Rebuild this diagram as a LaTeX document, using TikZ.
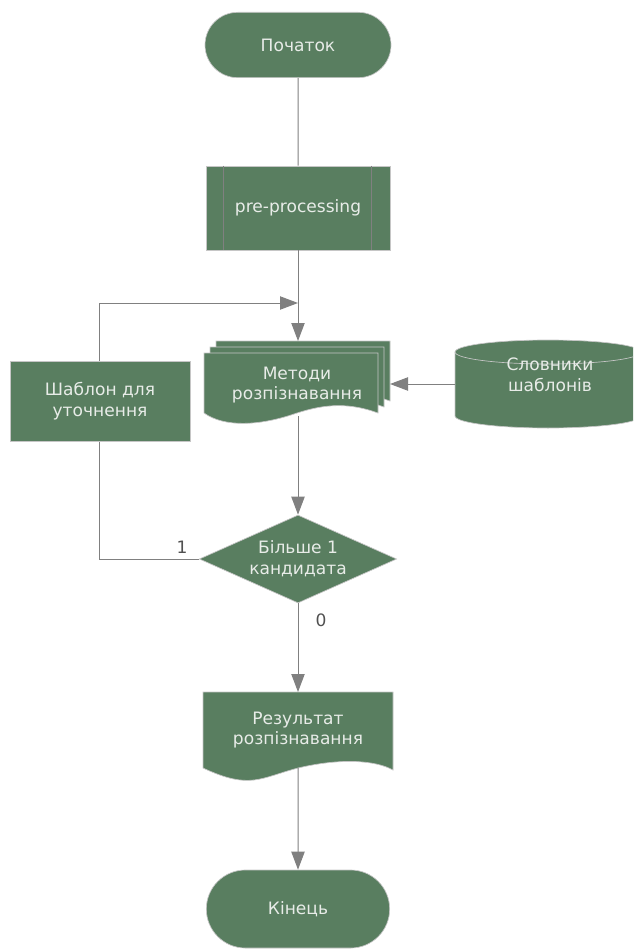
\documentclass[tikz,border=0pt]{standalone}
\usepackage{fontspec}
\setmainfont{DejaVu Sans}
\usetikzlibrary{shapes.geometric,shapes.misc,arrows.meta}
\definecolor{boxgreen}{RGB}{89,126,96}
\definecolor{linegray}{RGB}{128,128,128}
\definecolor{labelwhite}{RGB}{232,236,232}
\definecolor{numgray}{RGB}{80,80,80}

\begin{document}
\begin{tikzpicture}[x=0.75pt,y=0.75pt,yscale=-1,xscale=1,
  every node/.style={font=\fontsize{12.8pt}{15.5pt}\selectfont},
  shapebox/.style={fill=boxgreen,draw=gray!45,line width=0.5pt},
  boxtext/.style={text=labelwhite,align=center,inner sep=0.75pt},
  terminal/.style={shapebox,boxtext,rounded rectangle,minimum width=141pt,minimum height=49pt},
  procbox/.style={shapebox,boxtext,rectangle,minimum width=138pt,minimum height=63pt},
  decision/.style={shapebox,diamond,inner sep=0pt,minimum width=148pt,minimum height=66pt},
  line/.style={draw=linegray,line width=0.75pt},
  flow/.style={line,-{Triangle[length=13.5pt,width=10pt]}},
  numlabel/.style={text=numgray,inner sep=0.75pt}]
\useasboundingbox (0,0) rectangle (633,952);

%Flowchart: Terminator
\node[terminal] (start) at (298,45) {Початок};

%Flowchart: Predefined Process
\node[procbox] (prep) at (298,208) {pre-processing};
\draw[draw=linegray,line width=0.5pt] ([xshift=13.5pt]prep.north west) -- ([xshift=13.5pt]prep.south west)
  ([xshift=-14pt]prep.north east) -- ([xshift=-14pt]prep.south east);

%Flowchart: Multidocument
\foreach \s in {12,6,0}
  \draw[shapebox,shift={(\s,-\s)}] (204,353) -- (378,353) -- (378,413) .. controls (345,401) and (320,405) .. (291,415) .. controls (260,425) and (225,428) .. (204,413) -- cycle;
\node[boxtext] (methods) at (297,385) {Методи\\розпізнавання};
\coordinate (methodsN) at (298,341);
\coordinate (methodsE) at (390,384);
\coordinate (methodsS) at (298,416);

%Flowchart: Database
\begin{scope}
\clip (0,0) rectangle (633,952);
\draw[shapebox] (455,352) -- (455,416) arc[start angle=180,end angle=0,x radius=93,y radius=12] -- (641,352) arc[start angle=0,end angle=-180,x radius=93,y radius=12] -- cycle;
\draw[draw=gray!45,line width=0.5pt] (455,352) arc[start angle=180,end angle=0,x radius=93,y radius=12];
\end{scope}
\node[boxtext] (dict) at (550,375) {Словники\\шаблонів};
\coordinate (dictW) at (455,384);

%Flowchart: Decision
\node[decision] (dec) at (298,559) {};
\node[boxtext] (dectext) at (dec) {Більше 1\\кандидата};

%Straight Lines
\coordinate (merge) at (298,303);
\draw[flow] (dec.west) -- ++(-100,0) |- (merge);
\draw[line] (start) -- (prep);
\draw[flow] (prep) -- (methodsN);
\draw[flow] (dictW) -- (methodsE);
\draw[flow] (methodsS) -- (dec);

%Flowchart: Process
\node[procbox,minimum width=135pt,minimum height=60pt] (tmpl) at (100,401) {Шаблон для\\уточнення};

%Flowchart: Document
\draw[shapebox] (203,692) -- (393,692) -- (393,770) .. controls (375,760) and (340,758) .. (298,768) .. controls (260,778) and (250,790) .. (203,768) -- cycle;
\node[boxtext] (result) at (298,730) {Результат\\розпізнавання};
\coordinate (resultN) at (298,692);
\coordinate (resultS) at (298,768);

%Flowchart: Terminator
\node[terminal,minimum width=139pt,minimum height=58.5pt] (end) at (298,909) {Кінець};

\draw[flow] (dec) -- (resultN);
\draw[flow] (resultS) -- (end);

% Text Node
\node[numlabel] (one) at (182,547) {1};
% Text Node
\node[numlabel] (zero) at (321,620) {0};

\end{tikzpicture}
\end{document}
